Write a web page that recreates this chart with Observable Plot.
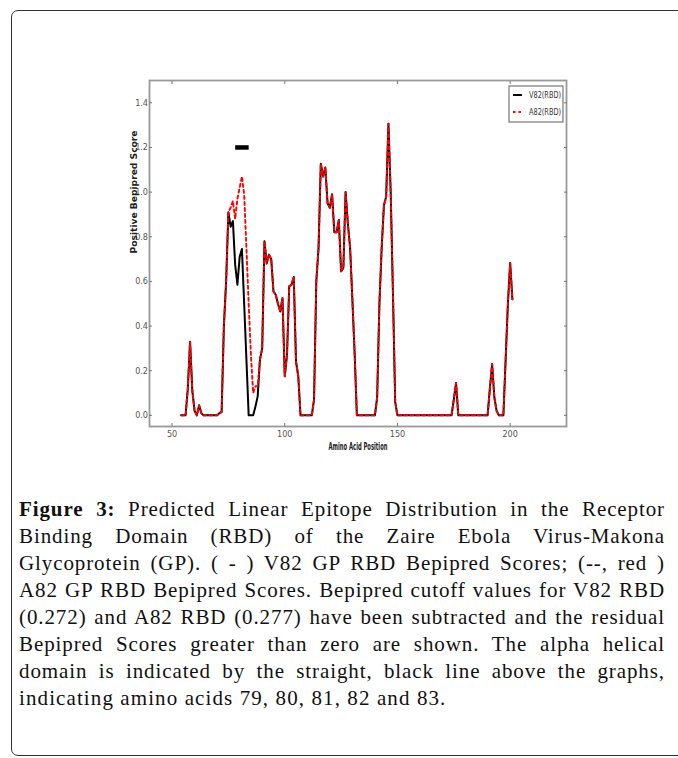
<!DOCTYPE html>
<html>
<head>
<meta charset="utf-8">
<script src="https://cdn.jsdelivr.net/npm/d3@7"></script>
<script src="https://cdn.jsdelivr.net/npm/@observablehq/plot@0.6"></script>
<style>
  html, body { margin: 0; padding: 0; background: #fff; }
  #page { position: relative; width: 678px; height: 758px; overflow: hidden; background: #fff; }
  #box { position: absolute; left: 11px; top: 10px; width: 720px; height: 744px; border: 1.3px solid #333; border-radius: 7px; }
  #chart { position: absolute; left: 0; top: 0; }
  #legend { position: absolute; left: 508px; top: 85px; }
  #caption { position: absolute; left: 19px; top: 496px; width: 646px; font-family: "Liberation Serif", "DejaVu Serif", serif;
             font-size: 21px; line-height: 27px; color: #111; letter-spacing: 0.9px; }
  #caption .ln { text-align: justify; text-align-last: justify; white-space: nowrap; }
  #caption .ln.last { text-align: left; text-align-last: left; letter-spacing: 1.1px; }
</style>
</head>
<body>
<div id="page">
  <div id="box"></div>
  <div id="chart"></div>
  <div id="legend"></div>
  <div id="caption"></div>
</div>
<script>
// ---- data ----
const positions = d3.range(54, 202); // amino acid positions 54..201
const v82 = [
  0, 0, 0, 0.12, 0.33, 0.11, 0.02, 0, 0.045, 0.01,          // 54-63
  0, 0, 0, 0, 0, 0, 0, 0.01, 0.015, 0.40,                   // 64-73
  0.60, 0.91, 0.845, 0.87, 0.675, 0.585, 0.71, 0.745, 0.50, 0.25, // 74-83
  0, 0, 0, 0.04, 0.085, 0.25, 0.30, 0.78, 0.68, 0.72,       // 84-93
  0.70, 0.555, 0.54, 0.50, 0.465, 0.525, 0.175, 0.27, 0.578, 0.585, // 94-103
  0.62, 0.24, 0.175, 0, 0, 0, 0, 0, 0, 0.07,                // 104-113
  0.60, 0.75, 1.127, 1.07, 1.11, 0.95, 0.93, 0.99, 0.82, 0.82, // 114-123
  0.875, 0.645, 0.66, 1.0, 0.86, 0.75, 0.52, 0.28, 0, 0,    // 124-133
  0, 0, 0, 0, 0, 0, 0, 0.08, 0.50, 0.75,                    // 134-143
  0.94, 0.98, 1.306, 1.0, 0.55, 0.06, 0, 0, 0, 0,           // 144-153
  0, 0, 0, 0, 0, 0, 0, 0, 0, 0,                             // 154-163
  0, 0, 0, 0, 0, 0, 0, 0, 0, 0,                             // 164-173
  0, 0.07, 0.145, 0, 0, 0, 0, 0, 0, 0,                      // 174-183
  0, 0, 0, 0, 0, 0, 0, 0.12, 0.23, 0.08,                    // 184-193
  0.02, 0, 0, 0, 0.25, 0.50, 0.683, 0.52                    // 194-201
];
const a82 = [
  0, 0, 0, 0.12, 0.33, 0.11, 0.02, 0, 0.045, 0.01,
  0, 0, 0, 0, 0, 0, 0, 0.01, 0.015, 0.40,
  0.60, 0.91, 0.93, 0.96, 0.88, 0.97, 1.02, 1.07, 0.99, 0.75,
  0.50, 0.27, 0.10, 0.13, 0.13, 0.25, 0.30, 0.78, 0.68, 0.72,
  0.70, 0.555, 0.54, 0.50, 0.465, 0.525, 0.175, 0.27, 0.578, 0.585,
  0.62, 0.24, 0.175, 0, 0, 0, 0, 0, 0, 0.07,
  0.60, 0.75, 1.127, 1.07, 1.11, 0.95, 0.93, 0.99, 0.82, 0.82,
  0.875, 0.645, 0.66, 1.0, 0.86, 0.75, 0.52, 0.28, 0, 0,
  0, 0, 0, 0, 0, 0, 0, 0.08, 0.50, 0.75,
  0.94, 0.98, 1.306, 1.0, 0.55, 0.06, 0, 0, 0, 0,
  0, 0, 0, 0, 0, 0, 0, 0, 0, 0,
  0, 0, 0, 0, 0, 0, 0, 0, 0, 0,
  0, 0.07, 0.145, 0, 0, 0, 0, 0, 0, 0,
  0, 0, 0, 0, 0, 0, 0, 0.12, 0.23, 0.08,
  0.02, 0, 0, 0, 0.25, 0.50, 0.683, 0.52
];
const helixPositions = [79, 80, 81, 82, 83];
const helixLevel = 1.2;
const seriesNames = ["V82(RBD)", "A82(RBD)"];
const xTicks = [50, 100, 150, 200];
const yTicks = [0, 0.2, 0.4, 0.6, 0.8, 1.0, 1.2, 1.4];
const xLabel = "Amino Acid Position";
const yLabel = "Positive Bepipred Score";
const captionLines = [
  ["Figure 3:", " Predicted Linear Epitope Distribution in the Receptor"],
  ["", "Binding Domain (RBD) of the Zaire Ebola Virus-Makona"],
  ["", "Glycoprotein (GP). ( - ) V82 GP RBD Bepipred Scores; (--, red )"],
  ["", "A82 GP RBD Bepipred Scores. Bepipred cutoff values for V82 RBD"],
  ["", "(0.272) and A82 RBD (0.277) have been subtracted and the residual"],
  ["", "Bepipred Scores greater than zero are shown. The alpha helical"],
  ["", "domain is indicated by the straight, black line above the graphs,"],
  ["", "indicating amino acids 79, 80, 81, 82 and 83."]
];

// ---- build ----
const rows = positions.map((p, i) => ({pos: p, v82: v82[i], a82: a82[i]}));
const helix = helixPositions.map(p => ({pos: p, level: helixLevel}));
const tickFont = "'Liberation Sans Narrow', 'DejaVu Sans Condensed', sans-serif";

const chart = Plot.plot({
  width: 678,
  height: 460,
  marginLeft: 149,
  marginRight: 112,
  marginTop: 80,
  marginBottom: 34,
  style: {background: "transparent", fontFamily: tickFont, fontSize: "9px", color: "#555"},
  x: {domain: [40, 225]},
  y: {domain: [-0.05, 1.5]},
  marks: [
    Plot.frame({stroke: "#999", strokeWidth: 1.8}),
    Plot.axisX({anchor: "bottom", ticks: xTicks, tickSize: -3, tickPadding: 7, label: null, stroke: "#777"}),
    Plot.axisX({anchor: "top", ticks: xTicks, tickSize: -3, tickFormat: () => "", label: null, stroke: "#777"}),
    Plot.axisY({anchor: "left", ticks: yTicks, tickSize: -3, tickPadding: 4.5, tickFormat: d3.format(".1f"), label: null, stroke: "#777"}),
    Plot.axisY({anchor: "right", ticks: yTicks, tickSize: -3, tickFormat: () => "", label: null, stroke: "#777"}),
    Plot.line(rows, {x: "pos", y: "v82", stroke: "#000", strokeWidth: 2}),
    Plot.line(rows, {x: "pos", y: "a82", stroke: "#ff0000", strokeWidth: 1.9, strokeDasharray: "3,3"}),
    Plot.line(helix, {x: "pos", y: "level", stroke: "#000", strokeWidth: 4.5, strokeLinecap: "square"}),
    Plot.text([xLabel], {frameAnchor: "bottom", dy: 20.5, lineAnchor: "middle", fontWeight: "bold", fontSize: 10, fill: "#222", className: "xlab"}),
    Plot.text([yLabel], {frameAnchor: "left", dx: -15, rotate: -90, lineAnchor: "middle", fontWeight: "bold", fontSize: 9,
                         fontFamily: "'DejaVu Sans', sans-serif", fill: "#222", className: "ylab"})
  ]
});
document.getElementById("chart").appendChild(chart);
// condense the axis titles like the reference
d3.select(chart).selectAll(".xlab text").attr("textLength", 59).attr("lengthAdjust", "spacingAndGlyphs");
d3.select(chart).selectAll(".ylab text").attr("textLength", 123).attr("lengthAdjust", "spacingAndGlyphs");

// legend (upper right inside the frame)
const lg = d3.select("#legend").append("svg").attr("width", 58).attr("height", 40);
lg.append("rect").attr("x", 1).attr("y", 1).attr("width", 54).attr("height", 36)
  .attr("fill", "#fff").attr("stroke", "#777").attr("stroke-width", 1.2);
seriesNames.forEach((name, i) => {
  const cy = i === 0 ? 10 : 27;
  const l = lg.append("line").attr("x1", 5).attr("x2", 14).attr("y1", cy).attr("y2", cy).attr("stroke-width", 2);
  if (i === 0) l.attr("stroke", "#000");
  else l.attr("stroke", "#ff0000").attr("stroke-dasharray", "2.5,3");
  lg.append("text").attr("x", 21).attr("y", cy).attr("dy", "0.35em")
    .attr("font-family", tickFont).attr("font-size", 8.5).attr("fill", "#333")
    .attr("textLength", 32).attr("lengthAdjust", "spacingAndGlyphs").text(name);
});

// caption
const cap = d3.select("#caption");
captionLines.forEach((ln, i) => {
  const d = cap.append("div").attr("class", "ln" + (i === captionLines.length - 1 ? " last" : ""));
  if (ln[0]) d.append("b").text(ln[0]);
  d.append("span").text(ln[1]);
});
</script>
</body>
</html>
